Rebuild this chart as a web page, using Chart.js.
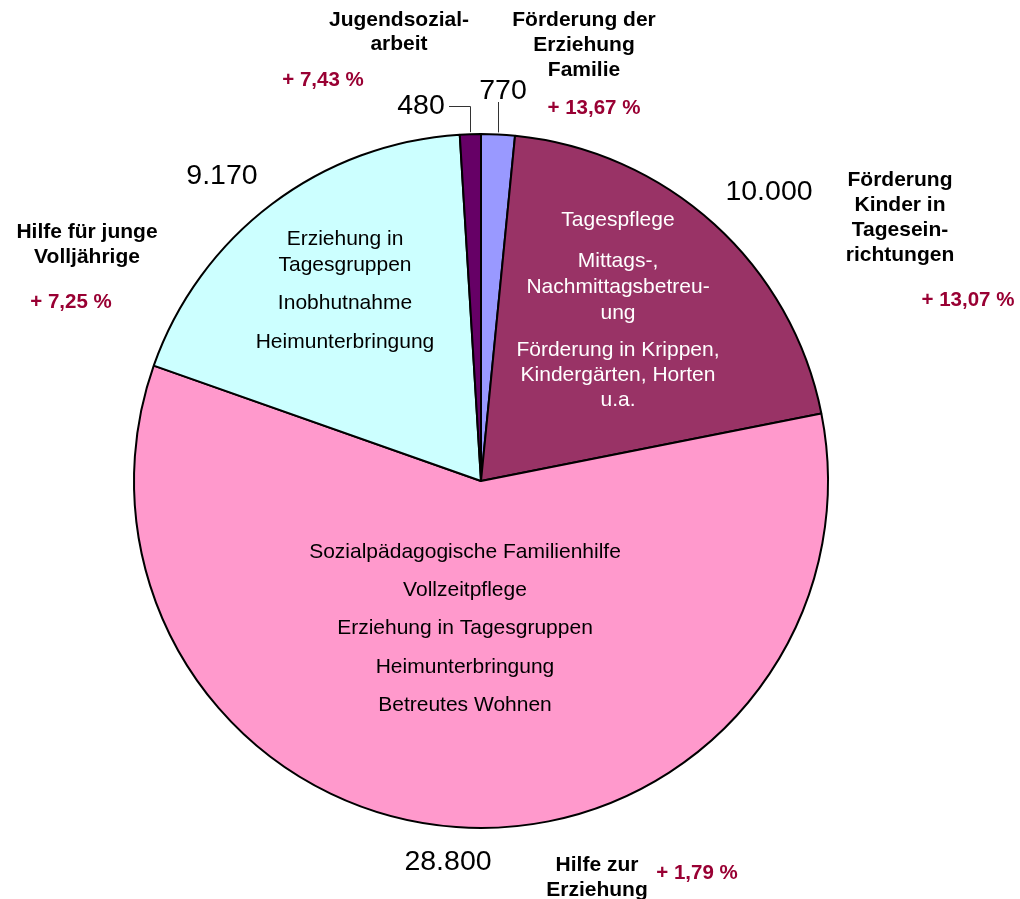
<!DOCTYPE html>
<html lang="de">
<head>
<meta charset="utf-8">
<script src="https://cdn.jsdelivr.net/npm/chart.js@4"></script>
<style>
  body { margin: 0; background: #fff; }
  canvas { display: block; }
</style>
</head>
<body>
<canvas id="pie" width="1020" height="899"></canvas>
<script>
// data, clockwise from 12 o'clock
const categories = ['Förderung der Erziehung Familie', 'Förderung Kinder in Tageseinrichtungen',
                    'Hilfe zur Erziehung', 'Hilfe für junge Volljährige', 'Jugendsozialarbeit'];
const values = [770, 10000, 28800, 9170, 480];
const valueLabels = ['770', '10.000', '28.800', '9.170', '480'];
const changes = ['+ 13,67 %', '+ 13,07 %', '+ 1,79 %', '+ 7,25 %', '+ 7,43 %'];
const colors = ['#9999FF', '#993366', '#FF99CC', '#CCFFFF', '#660066'];

const FONT = '"Liberation Sans", Arial, sans-serif';
const RED = '#990033';

const lines = (ctx, arr, x, y, lh) => {
  arr.forEach((t, i) => ctx.fillText(t, x, y + i * lh));
};

const labelPlugin = {
  id: 'labels',
  afterDraw(chart) {
    const ctx = chart.ctx;
    const arcs = chart.getDatasetMeta(0).data;
    ctx.save();
    ctx.textAlign = 'center';
    ctx.textBaseline = 'middle';

    // leader lines for the two small slices
    const edge = (a) => {
      const m = (a.startAngle + a.endAngle) / 2;
      return [a.x + Math.cos(m) * a.outerRadius, a.y + Math.sin(m) * a.outerRadius];
    };
    ctx.strokeStyle = '#333';
    ctx.lineWidth = 1;
    let [ex, ey] = edge(arcs[0]);
    ctx.beginPath();
    ctx.moveTo(Math.round(ex) + 0.5, ey - 2);
    ctx.lineTo(Math.round(ex) + 0.5, 102);
    ctx.stroke();
    [ex, ey] = edge(arcs[4]);
    ctx.beginPath();
    ctx.moveTo(Math.round(ex) + 0.5, ey - 2);
    ctx.lineTo(Math.round(ex) + 0.5, 106.5);
    ctx.lineTo(449, 106.5);
    ctx.stroke();

    // values
    ctx.fillStyle = '#000';
    ctx.font = '28.5px ' + FONT;
    ctx.fillText(valueLabels[0], 503, 91);
    ctx.fillText(valueLabels[1], 769, 192);
    ctx.fillText(valueLabels[2], 448, 862);
    ctx.fillText(valueLabels[3], 222, 176);
    ctx.fillText(valueLabels[4], 421, 106);

    // category names
    ctx.font = 'bold 21px ' + FONT;
    lines(ctx, ['Förderung der', 'Erziehung', 'Familie'], 584, 20, 25);
    lines(ctx, ['Förderung', 'Kinder in', 'Tagesein-', 'richtungen'], 900, 180, 25);
    lines(ctx, ['Hilfe zur', 'Erziehung'], 597, 865, 25);
    lines(ctx, ['Hilfe für junge', 'Volljährige'], 87, 232, 25);
    lines(ctx, ['Jugendsozial-', 'arbeit'], 399, 20, 24);

    // changes
    ctx.font = 'bold 20.5px ' + FONT;
    ctx.fillStyle = RED;
    ctx.fillText(changes[0], 594, 108);
    ctx.fillText(changes[1], 968, 300);
    ctx.fillText(changes[2], 697, 873);
    ctx.fillText(changes[3], 71, 302);
    ctx.fillText(changes[4], 323, 80);

    // texts inside slices
    ctx.font = '21px ' + FONT;
    ctx.fillStyle = '#fff';
    lines(ctx, ['Tagespflege'], 618, 220, 26);
    lines(ctx, ['Mittags-,', 'Nachmittagsbetreu-', 'ung'], 618, 261, 26);
    lines(ctx, ['Förderung in Krippen,', 'Kindergärten, Horten', 'u.a.'], 618, 350, 25);
    ctx.fillStyle = '#000';
    lines(ctx, ['Erziehung in', 'Tagesgruppen'], 345, 239, 26);
    lines(ctx, ['Inobhutnahme', 'Heimunterbringung'], 345, 303, 39);
    lines(ctx, ['Sozialpädagogische Familienhilfe', 'Vollzeitpflege', 'Erziehung in Tagesgruppen',
                'Heimunterbringung', 'Betreutes Wohnen'], 465, 552, 38.3);
    ctx.restore();
  }
};

new Chart(document.getElementById('pie'), {
  type: 'pie',
  data: {
    labels: categories,
    datasets: [{
      data: values,
      backgroundColor: colors,
      borderColor: '#000',
      borderWidth: 2
    }]
  },
  options: {
    responsive: false,
    animation: false,
    layout: { padding: { left: 133, right: 191, top: 133, bottom: 70 } },
    plugins: { legend: { display: false }, tooltip: { enabled: false } }
  },
  plugins: [labelPlugin]
});
</script>
</body>
</html>
